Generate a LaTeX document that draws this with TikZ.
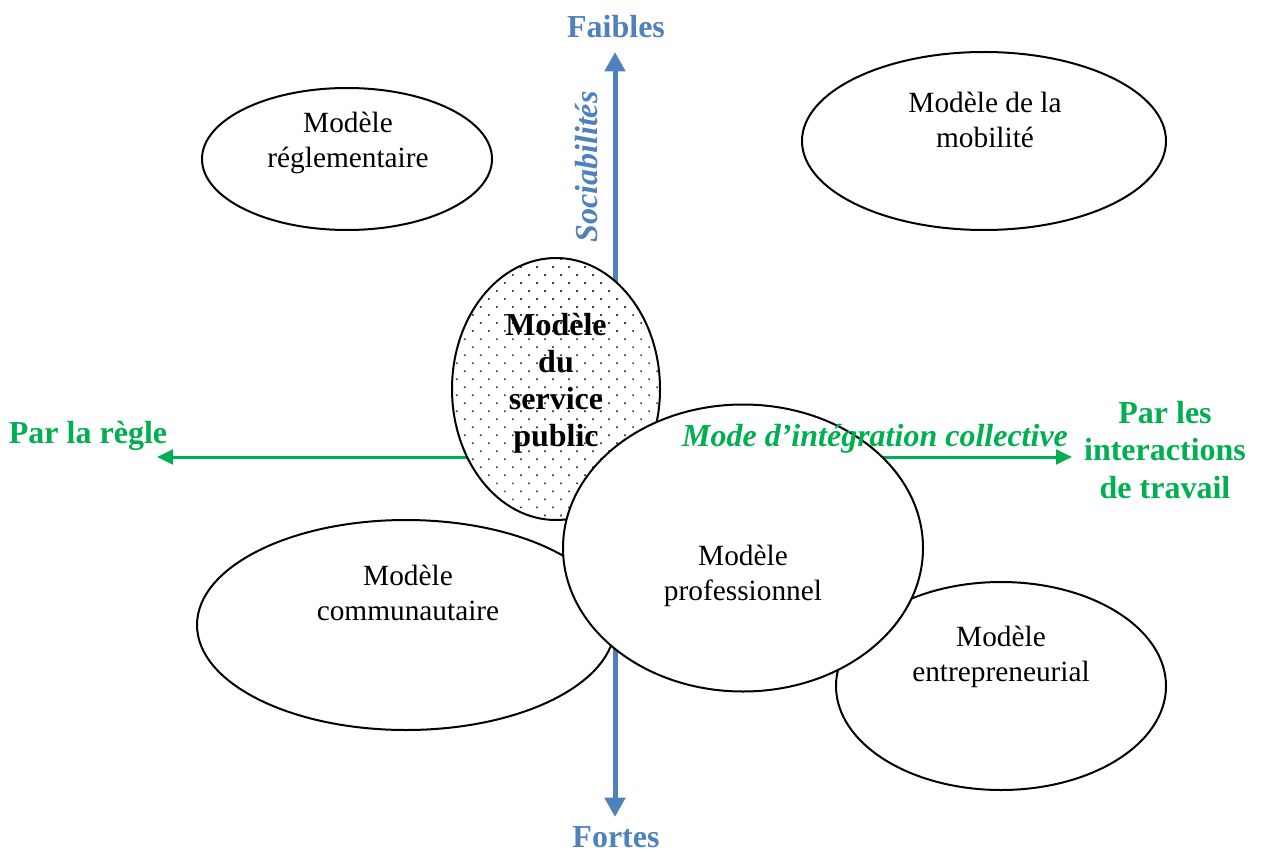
\documentclass[tikz,border=0pt]{standalone}
\usepackage{fontspec}
\setmainfont{Liberation Serif}
\usetikzlibrary{shapes.geometric,arrows.meta,patterns.meta}

\definecolor{axisblue}{RGB}{79,129,189}
\definecolor{axisgreen}{RGB}{0,176,80}

\begin{document}
\begin{tikzpicture}[x=0.75pt,y=0.75pt,yscale=-1,xscale=1,
  model/.style={ellipse, draw, line width=1.5pt, fill=white, inner sep=0pt},
  modeltext/.style={align=center, inner sep=0pt, font=\fontsize{22}{26.25}\selectfont},
  axislabel/.style={align=center, inner sep=0pt, font=\fontsize{24}{28}\selectfont\bfseries}]
\useasboundingbox (0,0) rectangle (1262,852);

%Axis ends
\coordinate (top) at (615,52);
\coordinate (bottom) at (615,817);
\coordinate (left) at (157,457);
\coordinate (right) at (1072,457);

%Straight Lines: sociabilites
\draw [axisblue, line width=3.75pt, {Triangle[width=15pt,length=14.5pt]}-{Triangle[width=15pt,length=14.5pt]}] (top) -- (bottom) ;
%Straight Lines: integration
\draw [axisgreen, line width=2.25pt, {Triangle[width=11pt,length=12pt]}-{Triangle[width=11pt,length=12pt]}] (left) -- (right) ;

%Shape: Ellipse
\node (regl) [model, minimum width=217.5pt, minimum height=106.5pt] at (347,159) {};
%Shape: Ellipse
\node (mobil) [model, minimum width=273pt, minimum height=133.5pt] at (984,141) {};
%Shape: Ellipse
\node (commu) [model, minimum width=313.5pt, minimum height=157.5pt] at (406,625) {};
%Shape: Ellipse
\node (entre) [model, minimum width=247.5pt, minimum height=156pt] at (1001,686) {};
%Shape: Ellipse (dotted)
\node (servpub) [model, minimum width=156pt, minimum height=196.5pt, preaction={fill=white}, pattern={Dots[distance=8.5pt, angle=45, radius=0.9pt]}, pattern color=black!75] at (556,389) {};
%Shape: Ellipse
\node (profes) [model, minimum width=270pt, minimum height=215.25pt] at (743,548) {};

% Text Node
\node (reglt) [modeltext] at (348,143) {Modèle\\réglementaire};
% Text Node
\node (mobilt) [modeltext] at (985,120) {Modèle de la\\mobilité};
% Text Node
\node (commut) [modeltext] at (408,593) {Modèle\\communautaire};
% Text Node
\node (profest) [modeltext] at (743,576) {Modèle\\professionnel};
% Text Node
\node (entret) [modeltext] at (1001,657) {Modèle\\entrepreneurial};
% Text Node
\node (servpubt) [axislabel, font=\fontsize{24}{27.75}\selectfont\bfseries] at (556,383) {Modèle\\du\\service\\public};

% Text Node
\node (faibles) [axislabel, text=axisblue] at (616,27) {Faibles};
% Text Node
\node (fortes) [axislabel, text=axisblue] at (616,837) {Fortes};
% Text Node
\node (socia) [axislabel, text=axisblue, rotate=90, font=\fontsize{24}{28}\selectfont\bfseries\itshape] at (587,167) {Sociabilités};
% Text Node
\node (regle) [axislabel, text=axisgreen] at (88,436) {Par la règle};
% Text Node
\node (interac) [axislabel, text=axisgreen] at (1165,450) {Par les\\interactions\\de travail};
% Text Node
\node (modeint) [axislabel, text=axisgreen, font=\fontsize{24}{28}\selectfont\bfseries\itshape] at (875,439) {Mode d’intégration collective};

\end{tikzpicture}
\end{document}
